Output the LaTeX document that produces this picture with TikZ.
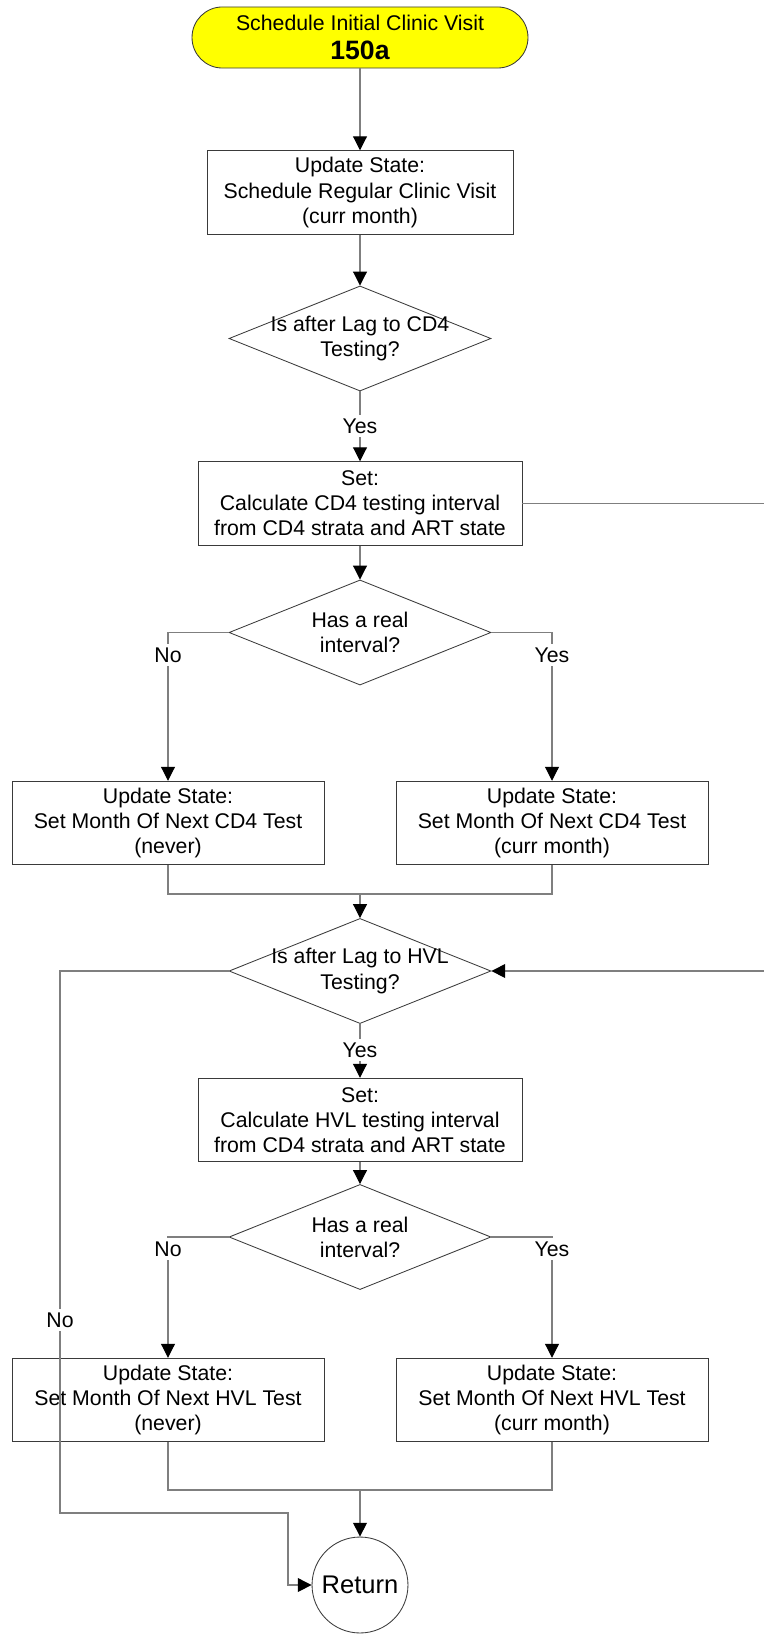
\documentclass[tikz,border=0pt]{standalone}
\usepackage{fontspec}
\setmainfont{Liberation Sans}
\usetikzlibrary{arrows.meta,shapes.geometric}
\definecolor{FlowInk}{HTML}{000000}
\definecolor{FlowEdge}{HTML}{3A3A3A}
\definecolor{FlowLine}{HTML}{7F7F7F}
\definecolor{FlowStart}{HTML}{FFFF00}

\begin{document}
\begin{tikzpicture}[x=0.47pt,y=-0.47pt,
  font=\fontsize{10}{11.8}\selectfont,
  startbox/.style={draw=FlowEdge,fill=FlowStart,rounded corners=14.3pt,minimum width=157.9pt,minimum height=28.7pt,align=center,inner sep=0pt,text=FlowInk},
  procbox/.style={draw=FlowEdge,fill=white,align=center,inner sep=0pt,minimum height=39.3pt,text=FlowInk},
  decision/.style={diamond,draw=FlowEdge,minimum width=123.1pt,minimum height=49.4pt,inner sep=0pt},
  endbox/.style={circle,draw=FlowEdge,fill=white,minimum size=45.1pt,inner sep=0pt,font=\fontsize{12}{14}\selectfont},
  tag/.style={fill=white,inner sep=1.5pt,text=FlowInk},
  flow/.style={draw=FlowLine,line width=0.5pt},
  arr/.style={flow,-{Triangle[length=6.5pt,width=6.5pt,color=black]}}
]
\useasboundingbox (0,0) rectangle (763,1634);

\node[startbox] (start) at (360,37.5) {Schedule Initial Clinic Visit\\[1.5pt]{\fontsize{12.5}{14}\selectfont\bfseries 150a}};
\node[procbox,minimum width=143.8pt] (upd) at (360,192.5) {Update State:\\Schedule Regular Clinic Visit\\(curr month)};
\node[decision] (lagcd4) at (360,338.5) {};
\node[align=center] (lagcd4txt) at (lagcd4) {Is after Lag to CD4\\Testing?};
\node[procbox,minimum width=152.3pt] (calccd4) at (360,503.5) {Set:\\Calculate CD4 testing interval\\from CD4 strata and ART state};
\node[decision] (hasint1) at (360,632.5) {};
\node[align=center] (hasint1txt) at (hasint1) {Has a real\\interval?};
\node[procbox,minimum width=146.6pt] (nevercd4) at (168,823) {Update State:\\Set Month Of Next CD4 Test\\(never)};
\node[procbox,minimum width=146.6pt] (currcd4) at (552,823) {Update State:\\Set Month Of Next CD4 Test\\(curr month)};
\node[decision] (laghvl) at (360,971) {};
\node[align=center] (laghvltxt) at (laghvl) {Is after Lag to HVL\\Testing?};
\node[procbox,minimum width=152.3pt] (calchvl) at (360,1120) {Set:\\Calculate HVL testing interval\\from CD4 strata and ART state};
\node[decision] (hasint2) at (360,1237) {};
\node[align=center] (hasint2txt) at (hasint2) {Has a real\\interval?};
\node[procbox,minimum width=146.6pt] (neverhvl) at (168,1400) {Update State:\\Set Month Of Next HVL Test\\(never)};
\node[procbox,minimum width=146.6pt] (currhvl) at (552,1400) {Update State:\\Set Month Of Next HVL Test\\(curr month)};
\node[endbox] (ret) at (360,1585) {Return};

% joins and loop corners
\coordinate (join1) at (360,894);
\coordinate (join2) at (360,1490);
\coordinate (loopR) at (772,503.5);
\coordinate (loopL) at (60,1513);
\coordinate (loopB) at (288,1513);

\draw[arr] (start) -- (upd);
\draw[arr] (upd) -- (lagcd4);
\draw[arr] (lagcd4) -- (calccd4);
\draw[arr] (calccd4) -- (hasint1);
\draw[arr] (hasint1.west) -| (nevercd4.north);
\draw[arr] (hasint1.east) -| (currcd4.north);
\draw[flow] (nevercd4.south) |- (join1) -| (currcd4.south);
\draw[arr] (join1) -- (laghvl.north);
\draw[arr] (calccd4.east) -- (loopR) |- (laghvl.east);
\draw[arr] (laghvl) -- (calchvl);
\draw[arr] (calchvl) -- (hasint2);
\draw[arr] (hasint2.west) -| (neverhvl.north);
\draw[arr] (hasint2.east) -| (currhvl.north);
\draw[flow] (neverhvl.south) |- (join2) -| (currhvl.south);
\draw[arr] (join2) -- (ret.north);
\draw[arr] (laghvl.west) -| (loopL) -- (loopB) |- (ret.west);

\node[tag] (yes1) at (360,426) {Yes};
\node[tag] (no1) at (168,655) {No};
\node[tag] (yes2) at (552,655) {Yes};
\node[tag] (yes3) at (360,1050) {Yes};
\node[tag] (no2) at (168,1249) {No};
\node[tag] (yes4) at (552,1249) {Yes};
\node[tag] (no3) at (60,1320) {No};
\end{tikzpicture}
\end{document}
